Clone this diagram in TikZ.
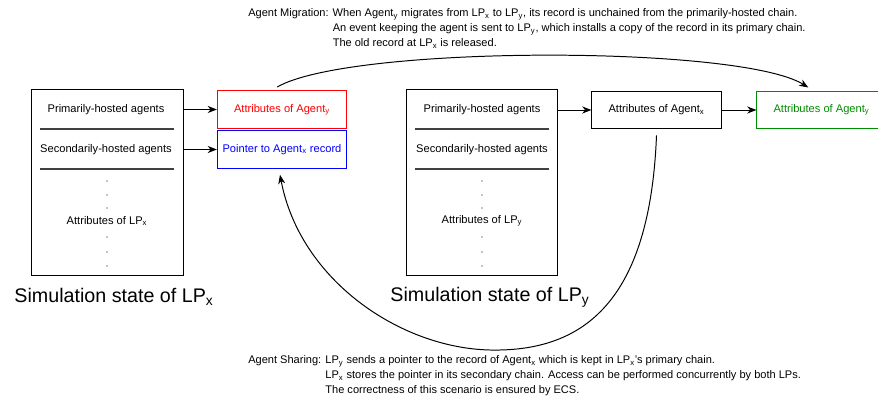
\documentclass[tikz,border=0pt]{standalone}
\usepackage{fontspec}
\setmainfont{Liberation Sans}
\usetikzlibrary{arrows.meta}
\definecolor{recgreen}{RGB}{0,140,0}

\tikzset{
  rec/.style={draw, line width=0.7pt, minimum width=3.23cm, minimum height=0.94cm, inner sep=0pt, font=\fontsize{7.9}{9}\selectfont},
  state/.style={draw, line width=0.7pt, minimum width=3.775cm, minimum height=4.625cm},
  row/.style={font=\fontsize{7.9}{9}\selectfont, inner sep=1pt},
  caption/.style={font=\fontsize{14}{16}\selectfont},
  note/.style={anchor=north west, inner sep=0pt, font=\fontsize{7.85}{10.67}\selectfont},
  link/.style={-{Stealth[length=6.5pt,width=5pt,inset=2pt]}, line width=0.7pt},
  sep/.style={line width=0.8pt, black!75},
}

\begin{document}
\begin{tikzpicture}[x=0.025cm, y=-0.025cm]
\useasboundingbox (0,0) rectangle (878,400);

% Simulation state of LP_x
\node[state] (lpxBox) at (107.5,182.5) {};
\node[row] (primX) at (106,110) {Primarily-hosted agents};
\draw[sep] (40,129) -- (174,129);
\node[row] (secX) at (106,150) {Secondarily-hosted agents};
\draw[sep] (40,169) -- (174,169);
\node[row] (attrLPx) at (107,221) {Attributes of LP\textsubscript{x}};
\foreach \y in {181,195,208,237,252,266}
  \fill (107,\y) circle (0.45pt);
\node[caption] (capX) at (114,297) {Simulation state of LP\textsubscript{x}};

% Records of LP_x
\node[rec, draw=red, text=red] (attrAy) at (282,109.5) {Attributes of Agent\textsubscript{y}};
\node[rec, draw=blue, text=blue] (ptrAx) at (282,149.5) {Pointer to Agent\textsubscript{x} record};
\draw[link] (lpxBox.east |- attrAy) -- (attrAy.west);
\draw[link] (lpxBox.east |- ptrAx) -- (ptrAx.west);

% Simulation state of LP_y
\node[state] (lpyBox) at (482,182.5) {};
\node[row] (primY) at (482,110) {Primarily-hosted agents};
\draw[sep] (415,129) -- (549,129);
\node[row] (secY) at (482,150) {Secondarily-hosted agents};
\draw[sep] (415,169) -- (549,169);
\node[row] (attrLPy) at (482,221) {Attributes of LP\textsubscript{y}};
\foreach \y in {181,195,208,237,252,266}
  \fill (482,\y) circle (0.45pt);
\node[caption] (capY) at (490,297) {Simulation state of LP\textsubscript{y}};

% Records of LP_y
\node[rec] (attrAx) at (656.5,110) {Attributes of Agent\textsubscript{x}};
\node[rec, draw=recgreen, text=recgreen] (attrAyNew) at (821.5,110) {Attributes of Agent\textsubscript{y}};
\draw[link] (lpyBox.east |- attrAx) -- (attrAx.west);
\draw[link] (attrAx.east) -- (attrAyNew.west);

% Migration and sharing
\draw[link] ([xshift=-0.12cm,yshift=0.08cm]attrAy.north) .. controls (350,45) and (740,45) .. ([xshift=-0.33cm,yshift=0.08cm]attrAyNew.north);
\draw[link] ([yshift=-0.15cm]attrAx.south) .. controls (650,300) and (585,352) .. (490,350)
  .. controls (400,348) and (300,280) .. ([xshift=-0.05cm,yshift=-0.15cm]ptrAx.south);

% Notes
\node[note] (migNote) at (248,6) {\begin{tabular}{@{}r@{ }l@{}}
  Agent Migration: & When Agent\textsubscript{y} migrates from LP\textsubscript{x} to LP\textsubscript{y}, its record is unchained from the primarily-hosted chain.\\
  & An event keeping the agent is sent to LP\textsubscript{y}, which installs a copy of the record in its primary chain.\\
  & The old record at LP\textsubscript{x} is released.
\end{tabular}};
\node[note] (shareNote) at (248,353) {\begin{tabular}{@{}r@{ }l@{}}
  Agent Sharing: & LP\textsubscript{y} sends a pointer to the record of Agent\textsubscript{x} which is kept in LP\textsubscript{x}'s primary chain.\\
  & LP\textsubscript{x} stores the pointer in its secondary chain. Access can be performed concurrently by both LPs.\\
  & The correctness of this scenario is ensured by ECS.
\end{tabular}};
\end{tikzpicture}
\end{document}
